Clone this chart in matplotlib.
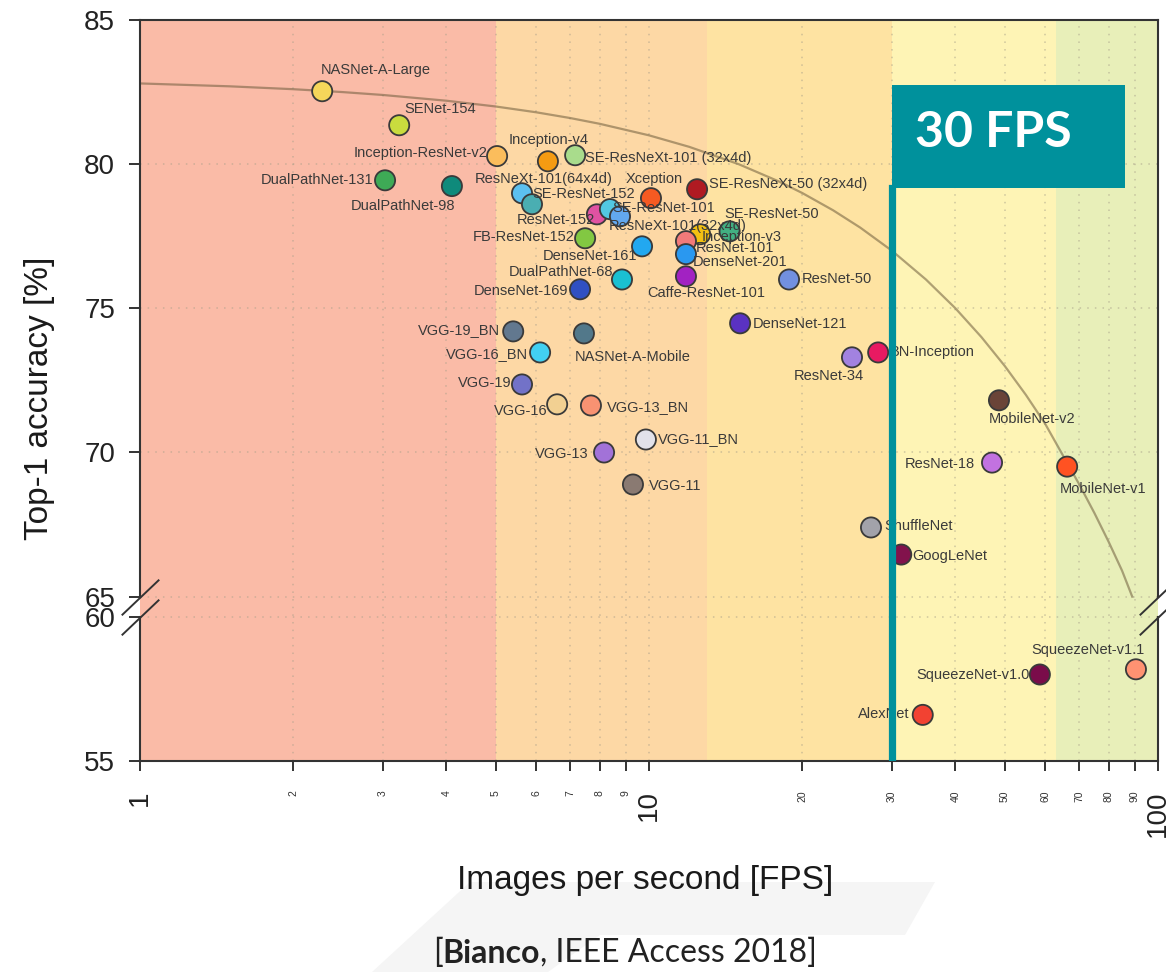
import numpy as np
import matplotlib
matplotlib.use("Agg")
import matplotlib.pyplot as plt
from matplotlib.patches import Rectangle, Polygon
from matplotlib.ticker import FixedLocator, NullFormatter, FuncFormatter
import matplotlib.transforms as mtransforms

plt.rcParams['font.family'] = ['Liberation Sans', 'DejaVu Sans']

# ---- data: top-1 accuracy vs inference speed
names = ['NASNet-A-Large', 'SENet-154', 'Inception-ResNet-v2', 'Inception-v4',
         'SE-ResNeXt-101 (32x4d)', 'DualPathNet-131', 'DualPathNet-98',
         'ResNeXt-101(64x4d)', 'SE-ResNet-152', 'Xception', 'SE-ResNeXt-50 (32x4d)',
         'ResNet-152', 'SE-ResNet-101', 'ResNeXt-101(32x4d)', 'FB-ResNet-152',
         'DenseNet-161', 'Inception-v3', 'SE-ResNet-50', 'ResNet-101', 'DenseNet-201',
         'DualPathNet-68', 'DenseNet-169', 'Caffe-ResNet-101', 'ResNet-50',
         'DenseNet-121', 'VGG-19_BN', 'NASNet-A-Mobile', 'VGG-16_BN', 'VGG-19',
         'VGG-16', 'VGG-13_BN', 'VGG-11_BN', 'VGG-13', 'VGG-11', 'ResNet-34',
         'BN-Inception', 'MobileNet-v2', 'ResNet-18', 'MobileNet-v1', 'ShuffleNet',
         'GoogLeNet', 'SqueezeNet-v1.1', 'SqueezeNet-v1.0', 'AlexNet']
fps = [2.28, 3.23, 5.03, 6.33, 7.16, 3.03, 4.10, 5.63, 5.89, 10.09, 12.43,
       7.9, 8.38, 8.77, 7.49, 9.69, 12.6, 14.4, 11.82, 11.82,
       8.85, 7.32, 11.82, 18.84, 15.1, 5.41, 7.45, 6.11, 5.63,
       6.6, 7.69, 9.86, 8.16, 9.3, 25.05, 28.2, 48.7, 47.2, 66.3, 27.3,
       31.3, 90.5, 58.6, 34.5]
top1 = [82.53, 81.35, 80.28, 80.1, 80.31, 79.44, 79.24, 78.99, 78.61, 78.82, 79.13,
        78.26, 78.44, 78.19, 77.43, 77.15, 77.57, 77.67, 77.33, 76.88,
        76.0, 75.66, 76.11, 76.0, 74.48, 74.2, 74.13, 73.47, 72.36,
        71.67, 71.63, 70.45, 70.0, 68.89, 73.3, 73.47, 71.81, 69.65, 69.51, 67.4,
        66.46, 58.18, 58.0, 56.6]
colors = ['#f6d75a', '#c9dc3e', '#fbbd5c', '#f59b12', '#a9dc8c', '#3eaa56', '#0f8a7b',
          '#5cc0f0', '#4aaeb2', '#f65a22', '#b01a22', '#e052a2', '#52c8e2', '#62a8f0',
          '#82c842', '#22a8f0', '#f2c012', '#42b082', '#f27a7a', '#2a98f0',
          '#1ac0d2', '#3050c2', '#a222c2', '#7290e0', '#5a32c2', '#62788f', '#52788a',
          '#42d0f2', '#7272c8', '#f2d092', '#f89272', '#e2e2ea', '#a272d8', '#8a7a72',
          '#a282e0', '#e81a62', '#6a4438', '#c272e0', '#ff5222', '#a2a2aa',
          '#82124c', '#ff9272', '#7a0c4a', '#f24232']

# trend line through the accuracy/speed frontier
curve_fps = [1, 1.5, 2, 2.5, 3, 4, 5, 6, 7, 8, 10, 12, 15, 18, 20, 23, 26, 30, 35,
             40, 45, 50, 55, 60, 66, 70, 75, 80, 85, 89]
curve_top1 = [82.8, 82.7, 82.6, 82.5, 82.4, 82.2, 82.0, 81.8, 81.6, 81.4, 81.0, 80.6,
              80.0, 79.4, 79.0, 78.4, 77.8, 77.0, 76.0, 75.0, 74.0, 73.0, 72.0,
              71.0, 69.7, 68.9, 67.9, 66.9, 65.9, 65.0]

# speed bands
band_edges = [1, 5, 13, 30, 63, 100]
band_colors = ['#fabba7', '#fdd8a5', '#fee3a2', '#fef4b5', '#e8efb9']

fps_target = 30

# label placement: (ha, dx px, dy px)
label_pos = [('left', -1, 21), ('left', 5, 16), ('right', -10, 3), ('center', 1, 21),
             ('left', 10, -3), ('right', -12, 0), ('right', 3, -20),
             ('left', -47, 14), ('left', 0, 10), ('center', 3, 19), ('left', 12, 5),
             ('right', -2, -6), ('left', 2, 1), ('left', -11, -10), ('right', -10, 1),
             ('right', -5, -10), ('left', 2, -3), ('left', -5, 17), ('left', 10, -7),
             ('left', 7, -8),
             ('right', -9, 7), ('right', -12, -2), ('center', 20, -17), ('left', 13, 0),
             ('left', 13, -1), ('right', -13, 1), ('left', -9, -24), ('right', -12, -2),
             ('right', -10, 1),
             ('right', -10, -7), ('left', 16, -2), ('left', 12, 0), ('right', -15, -2),
             ('left', 16, -2), ('center', -23, -19), ('left', 12, 0), ('center', 33, -19),
             ('right', -17, -1), ('left', -7, -22), ('left', 13, 1),
             ('left', 11, -1), ('right', 9, 19), ('right', -10, 0), ('right', -13, 1)]


# broken y axis: 60..65 squeezed into a small gap
def fwd(v):
    v = np.asarray(v, dtype=float)
    return np.where(v >= 65, v, np.where(v >= 60, 64.3 + (v - 60) * 0.14, v + 4.3))


def inv(u):
    u = np.asarray(u, dtype=float)
    return np.where(u >= 65, u, np.where(u >= 64.3, 60 + (u - 64.3) / 0.14, u - 4.3))


W, H = 1166, 972
fig = plt.figure(figsize=(W / 100, H / 100), dpi=100)
ax = fig.add_axes([140 / W, 1 - 761 / H, 1018 / W, 741 / H])
ax.set_xscale('log')
ax.set_yscale('function', functions=(fwd, inv))
ax.set_xlim(1, 100)
ax.set_ylim(55, 85)

for i in range(len(band_colors)):
    ax.axvspan(band_edges[i], band_edges[i + 1], color=band_colors[i], lw=0, zorder=0)

# ticks
major_x = [1, 10, 100]
minor_x = [2, 3, 4, 5, 6, 7, 8, 9, 20, 30, 40, 50, 60, 70, 80, 90]
ax.xaxis.set_major_locator(FixedLocator(major_x))
ax.xaxis.set_minor_locator(FixedLocator(minor_x))
ax.xaxis.set_major_formatter(FuncFormatter(lambda v, p: '%d' % v))
ax.xaxis.set_minor_formatter(FuncFormatter(lambda v, p: '%d' % v))
ax.tick_params(axis='x', which='major', labelsize=20, rotation=90, length=7,
               width=1.4, pad=14, color='#333333', labelcolor='#222222')
ax.tick_params(axis='x', which='minor', labelsize=7.5, rotation=90, length=7,
               width=1.4, pad=14, color='#333333', labelcolor='#333333')
ax.set_yticks([55, 60, 65, 70, 75, 80, 85])
ax.yaxis.set_minor_formatter(NullFormatter())
ax.tick_params(axis='y', labelsize=20, length=8, width=1.4, pad=10,
               color='#333333', labelcolor='#222222')

grid_kw = dict(color='#a89f8a', alpha=0.55, lw=1.1, linestyle=(0, (1, 4)), zorder=1)
for v in major_x[1:-1] + minor_x:
    ax.axvline(v, **grid_kw)
for v in [60, 65, 70, 75, 80]:
    ax.axhline(v, **grid_kw)

# frame with a gap at the axis break
for s in ['left', 'right']:
    ax.spines[s].set_visible(False)
for s in ['top', 'bottom']:
    ax.spines[s].set_color('#333333')
    ax.spines[s].set_linewidth(1.5)
tr = mtransforms.blended_transform_factory(ax.transAxes, ax.transData)
for xe in [0, 1]:
    ax.plot([xe, xe], [55, 60], color='#333333', lw=1.5, transform=tr,
            clip_on=False, zorder=5)
    ax.plot([xe, xe], [65, 85], color='#333333', lw=1.5, transform=tr,
            clip_on=False, zorder=5)
    for lvl in [65, 60]:
        ax.plot([xe], [lvl], transform=tr, marker=[(-1, -0.95), (1, 0.95)],
                markersize=27, mfc='none', mec='#333333', mew=1.4,
                clip_on=False, zorder=5)

ax.plot(curve_fps, curve_top1, color='#6e5c3c', alpha=0.55, lw=1.6, zorder=2)

ax.scatter(fps, top1, s=210, c=colors, edgecolors='#3a3a3a', linewidths=1.3, zorder=3)
for name, x, y, (ha, dx, dy) in zip(names, fps, top1, label_pos):
    ax.annotate(name, (x, y), xytext=(dx, dy), textcoords='offset pixels',
                ha=ha, va='center', fontsize=10.5, color='#3a3a3a', zorder=4)

# 30 FPS marker
teal = '#00919c'
ax.axvline(fps_target, ymin=0, ymax=0.773, color=teal, lw=5.2, zorder=6)
trb = mtransforms.blended_transform_factory(ax.transData, ax.transAxes)
ax.add_patch(Rectangle((fps_target, 0.773), 86 - fps_target, 0.139, transform=trb,
                       facecolor=teal, edgecolor='none', zorder=6, clip_on=False))
fig.text(915 / W, 1 - 147 / H, '%d FPS' % fps_target, fontsize=36, fontweight='bold',
         color='white', family=['Lato', 'DejaVu Sans'], ha='left', va='baseline',
         zorder=7)

# axis titles
fig.text(40 / W, 1 - 398 / H, 'Top-1 accuracy [%]', rotation=90, fontsize=24,
         ha='center', va='center', color='#1a1a1a')
fig.text(645 / W, 1 - 880 / H, 'Images per second [FPS]', fontsize=24,
         ha='center', va='center', color='#1a1a1a')

# faint logo behind the citation
fig.patches.append(Polygon([(470 / W, 1 - 882 / H), (935 / W, 1 - 882 / H),
                            (905 / W, 1 - 935 / H), (600 / W, 1 - 935 / H),
                            (548 / W, 0), (372 / W, 0)],
                           closed=True, transform=fig.transFigure,
                           facecolor='#f5f5f5', edgecolor='none', zorder=-1))

cite_kw = dict(fontsize=23, color='#222222', family=['Lato', 'DejaVu Sans'],
               va='bottom', ha='left')
t1 = fig.text(433 / W, 1 - 968 / H, '[', **cite_kw)
t2 = ax.annotate('Bianco', xy=(1, 0), xycoords=t1, fontweight='bold',
                 annotation_clip=False, **cite_kw)
ax.annotate(', IEEE Access 2018]', xy=(1, 0), xycoords=t2,
            annotation_clip=False, **cite_kw)

fig.savefig('out.png', dpi=100)
